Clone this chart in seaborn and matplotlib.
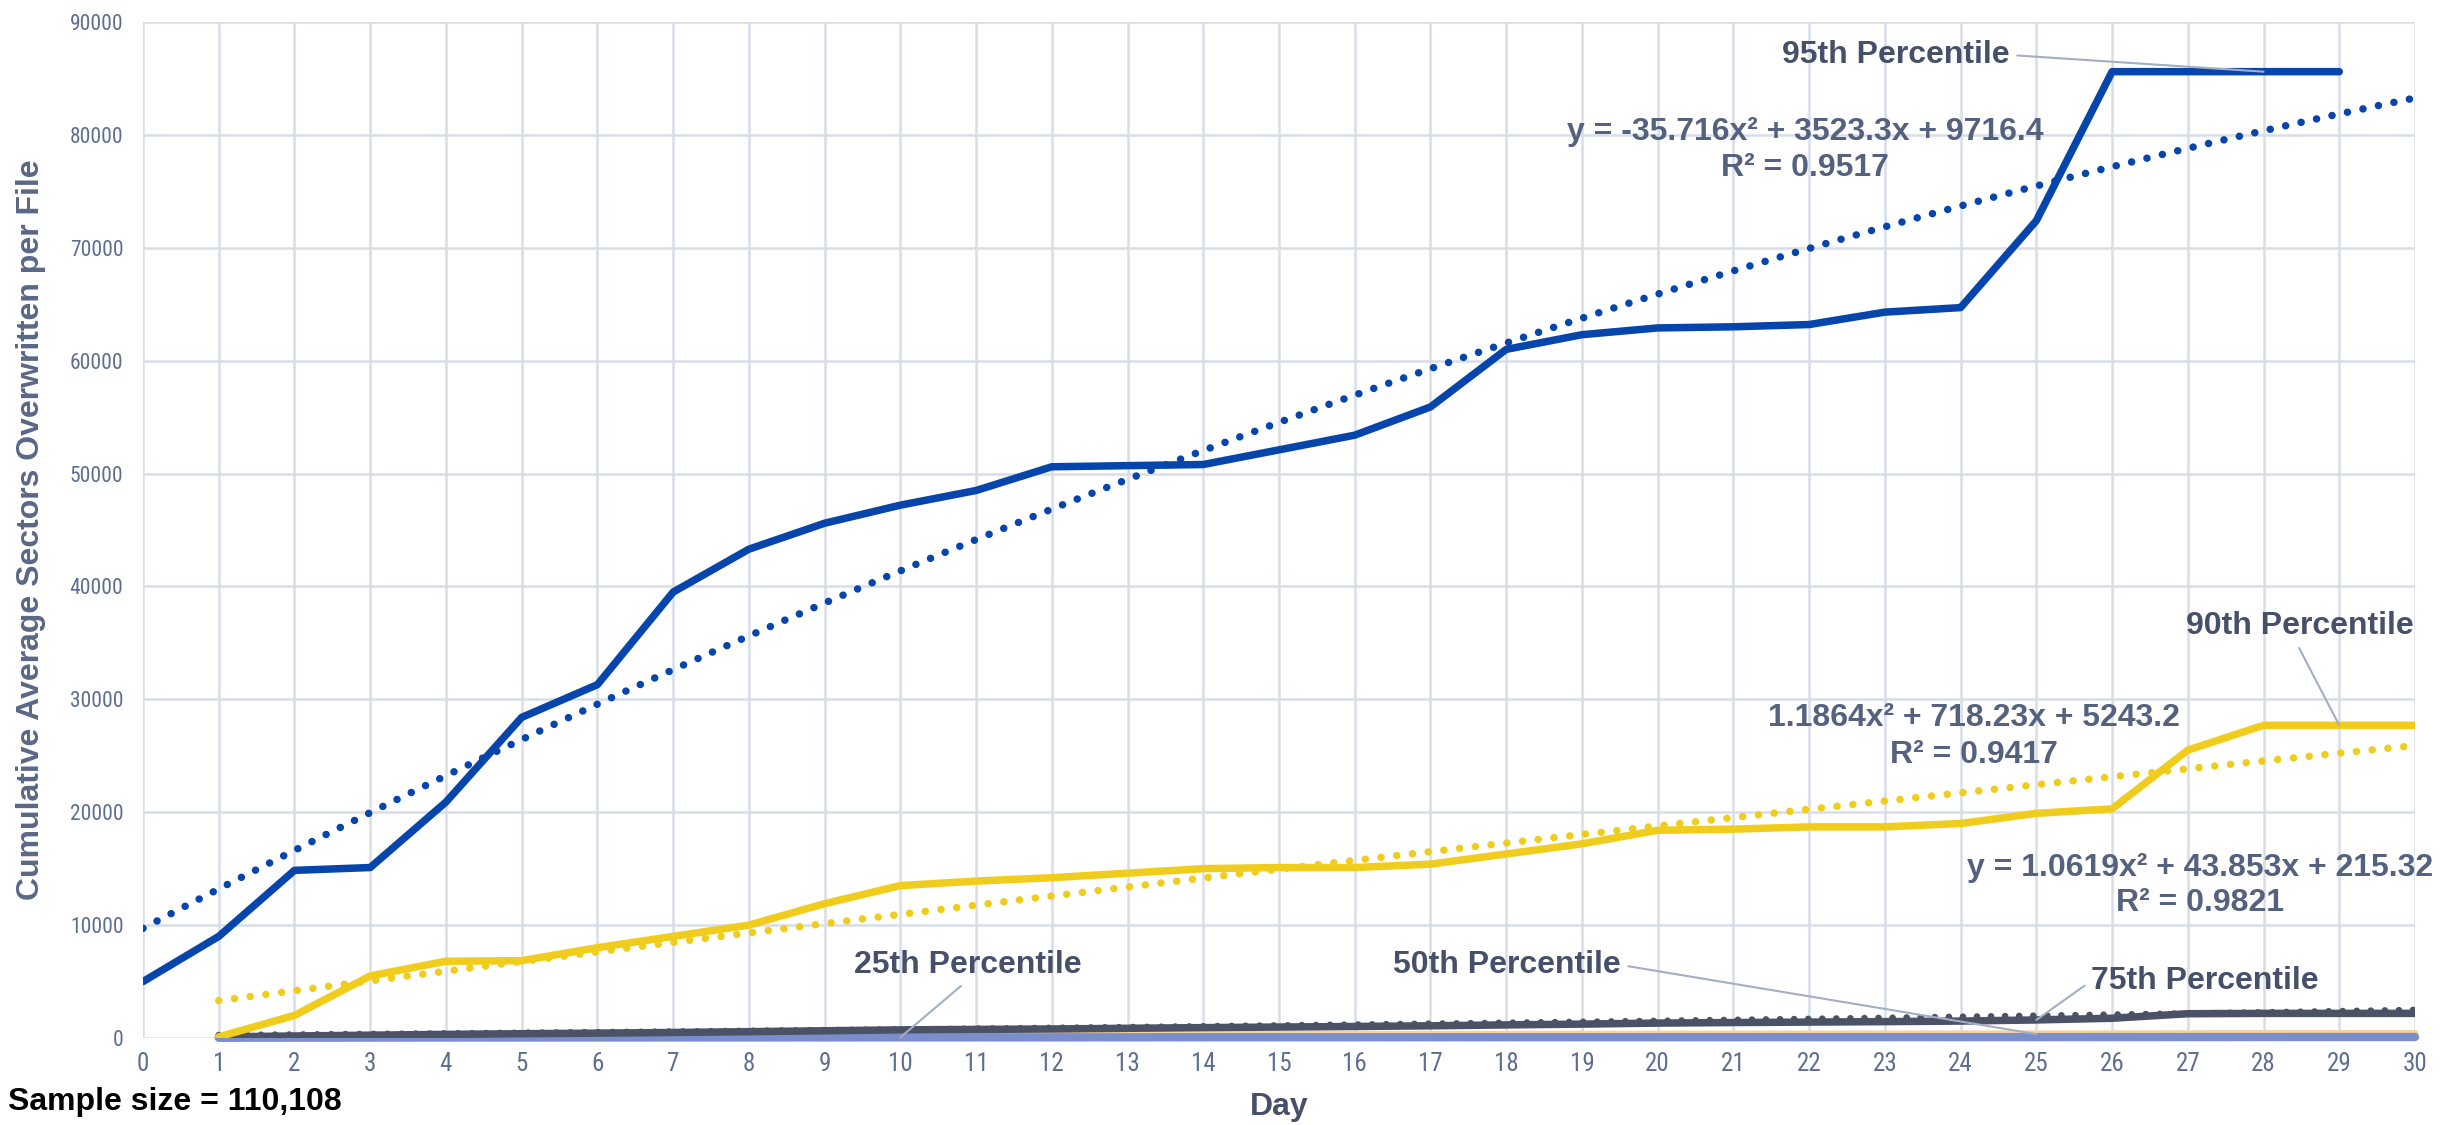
import numpy as np
import pandas as pd
import matplotlib
matplotlib.use("Agg")
import matplotlib.pyplot as plt
from matplotlib import font_manager
import seaborn as sns

# ---- data -------------------------------------------------------------
p95_days = list(range(0, 30))
p95 = [5000, 9000, 14850, 15100, 20900, 28400, 31300, 39500, 43300, 45600,
       47200, 48500, 50600, 50700, 50800, 52100, 53400, 55900, 61000, 62300,
       62900, 63000, 63200, 64300, 64700, 72400, 85600, 85600, 85600, 85600]

pct_days = list(range(1, 31))
p90 = [100, 2000, 5500, 6800, 6850, 8000, 9000, 10000, 11900, 13500,
       13900, 14200, 14600, 15000, 15100, 15100, 15400, 16300, 17200, 18400,
       18500, 18700, 18700, 19000, 19900, 20300, 25500, 27700, 27700, 27700]
p75 = [100, 180, 250, 320, 380, 430, 490, 560, 640, 720,
       760, 800, 860, 920, 970, 1020, 1080, 1160, 1230, 1320,
       1370, 1410, 1450, 1500, 1600, 1750, 2150, 2180, 2180, 2180]
p50 = [80, 110, 130, 150, 165, 180, 195, 210, 225, 240,
       250, 260, 270, 280, 290, 300, 305, 310, 315, 320,
       325, 330, 335, 340, 345, 350, 360, 370, 375, 380]
p25 = [20, 30, 35, 40, 42, 45, 48, 50, 52, 55,
       57, 58, 60, 62, 63, 65, 66, 68, 70, 71,
       72, 74, 75, 76, 78, 80, 82, 84, 85, 86]

# quadratic trendline coefficients (a, b, c)
trend95 = (-35.716, 3523.3, 9716.4)
trend75 = (1.0619, 43.853, 215.32)
eq95 = ("y = -35.716x² + 3523.3x + 9716.4", "R² = 0.9517")
eq90 = ("1.1864x² + 718.23x + 5243.2", "R² = 0.9417")
eq75 = ("y = 1.0619x² + 43.853x + 215.32", "R² = 0.9821")

x_ticks = list(range(0, 31))
y_ticks = list(range(0, 90001, 10000))

# ---- style ------------------------------------------------------------
sns.set_style("white")
entries = font_manager.fontManager.ttflist
names = {f.name for f in entries}
BASE = "Liberation Sans" if "Liberation Sans" in names else "DejaVu Sans"
plt.rcParams["font.family"] = [BASE, "DejaVu Sans"]

# pick a condensed face for the tick labels when one is installed
tick_font = dict(family=BASE)
narrow_ok = False
for fam, stretch in [("Liberation Sans Narrow", "normal"),
                     ("Roboto Condensed", "normal"),
                     ("Open Sans Condensed", "normal"),
                     ("Noto Sans", "condensed"),
                     ("Open Sans", "condensed"),
                     ("Roboto", "condensed")]:
    hits = [f for f in entries if f.name == fam and
            (stretch == "normal" or "condensed" in str(f.stretch))]
    if hits:
        tick_font = dict(family=fam)
        if stretch != "normal":
            tick_font["stretch"] = "condensed"
        narrow_ok = True
        break

C95 = "#0645ab"
C90 = "#f0cd1c"
C75 = "#4b5266"
C50 = "#f5d2a0"
C25 = "#798ecb"
GRID = "#d8dde8"
LBL = "#465069"
EQ = "#54627f"
TICK = "#5f6e90"
LEAD = "#a3adc4"

W, H = 2453, 1125
fig = plt.figure(figsize=(W / 100, H / 100), dpi=100)
L, R, T, B = 143, 2415, 22, 1038
ax = fig.add_axes([L / W, 1 - B / H, (R - L) / W, (B - T) / H])

LW = 5.4
DOTS = (0, (0.01, 2.1))

df95 = pd.DataFrame({"day": p95_days, "value": p95})
dfp = pd.DataFrame({"day": pct_days, "p90": p90, "p75": p75, "p50": p50, "p25": p25})

sns.lineplot(data=dfp, x="day", y="p50", ax=ax, color=C50, linewidth=LW,
             zorder=3, clip_on=False)
sns.lineplot(data=dfp, x="day", y="p25", ax=ax, color=C25, linewidth=LW + 0.6,
             zorder=4, clip_on=False)
sns.lineplot(data=dfp, x="day", y="p75", ax=ax, color=C75, linewidth=LW,
             zorder=5)

# trendlines
xt75 = np.linspace(1, 30, 200)
sns.lineplot(x=xt75, y=np.polyval(trend75, xt75), ax=ax, color=C75,
             linewidth=LW - 0.6, linestyle=DOTS, dash_capstyle="round", zorder=6)

sns.lineplot(data=dfp, x="day", y="p90", ax=ax, color=C90, linewidth=LW,
             zorder=7)
fit90 = np.polyfit(pct_days, p90, 2)
xt90 = np.linspace(1, 30, 200)
sns.lineplot(x=xt90, y=np.polyval(fit90, xt90), ax=ax, color=C90,
             linewidth=LW, linestyle=DOTS, dash_capstyle="round", zorder=8)

sns.lineplot(data=df95, x="day", y="value", ax=ax, color=C95, linewidth=LW,
             zorder=9)
xt95 = np.linspace(0, 30, 200)
sns.lineplot(x=xt95, y=np.polyval(trend95, xt95), ax=ax, color=C95,
             linewidth=LW, linestyle=DOTS, dash_capstyle="round", zorder=10)

# ---- axes -------------------------------------------------------------
ax.set_xlim(0, 30)
ax.set_ylim(0, 90000)
ax.set_xticks(x_ticks)
ax.set_yticks(y_ticks)
xt_size, yt_size = (18, 15.5) if narrow_ok else (17, 15.5)
ax.set_xticklabels([str(v) for v in x_ticks], fontsize=xt_size, color=TICK, **tick_font)
ax.set_yticklabels([str(v) for v in y_ticks], fontsize=yt_size, color=TICK, **tick_font)
ax.tick_params(axis="both", length=0)
ax.tick_params(axis="y", pad=14)
ax.tick_params(axis="x", pad=10)
ax.grid(True, color=GRID, linewidth=1.8, zorder=0)
ax.set_axisbelow(True)
for s in ax.spines.values():
    s.set_visible(False)

ax.set_xlabel("Day", fontsize=23, fontweight="bold", color=LBL)
ax.set_ylabel("Cumulative Average Sectors Overwritten per File", fontsize=23,
              fontweight="bold", color="#5a6786")
ax.xaxis.set_label_coords(0.5, -0.053)
ax.yaxis.set_label_coords(-0.0425, 0.5)

fig.text(8 / W, 1 - 1102 / H, "Sample size = 110,108", fontsize=23,
         fontweight="bold", color="black", ha="left", va="center")

# ---- series labels with leader lines ---------------------------------
def to_data(px, py):
    return ((px - L) / (R - L) * 30, (B - py) / (B - T) * 90000)


def leader(text, xy, pos, relpos):
    ax.annotate(text, xy=xy, xytext=to_data(*pos), textcoords="data",
                ha="center", va="center", fontsize=23, fontweight="bold",
                color=LBL, zorder=12, annotation_clip=False,
                arrowprops=dict(arrowstyle="-", color=LEAD, lw=1.5,
                                relpos=relpos, shrinkA=3, shrinkB=0))

leader("95th Percentile", (28, p95[p95_days.index(28)]), (1896, 55), (1.0, 0.5))
leader("90th Percentile", (29, p90[pct_days.index(29)]), (2300, 626), (0.48, 0.0))
leader("25th Percentile", (10, p25[pct_days.index(10)]), (968, 965), (0.5, 0.0))
leader("50th Percentile", (25, p50[pct_days.index(25)]), (1507, 965), (1.0, 0.5))
leader("75th Percentile", (25, p75[pct_days.index(25)]), (2205, 981), (0.0, 0.5))

# ---- trendline equations ---------------------------------------------
def equation(lines, cx, y1, y2):
    for line, py in zip(lines, (y1, y2)):
        x, y = to_data(cx, py)
        ax.text(x, y, line, ha="center", va="center", fontsize=23,
                fontweight="bold", color=EQ, zorder=12, clip_on=False)

equation(eq95, 1805, 132, 168)
equation(eq90, 1974, 718, 755)
equation(eq75, 2200, 868, 903)

fig.savefig("out.png", dpi=100, facecolor="white")
